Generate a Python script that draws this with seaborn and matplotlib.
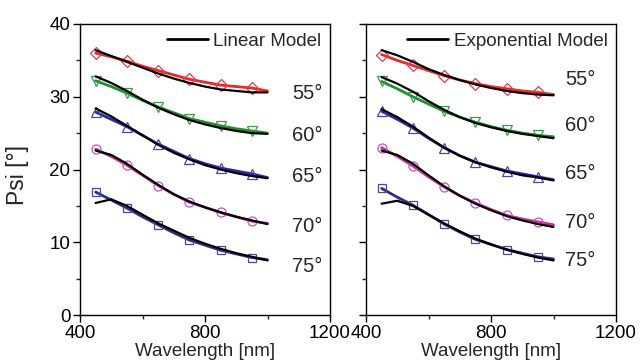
import numpy as np
import pandas as pd
import matplotlib
matplotlib.use("Agg")
import matplotlib.pyplot as plt
import seaborn as sns
from matplotlib.ticker import MultipleLocator
from matplotlib.lines import Line2D

sns.set_theme(style="ticks")
plt.rcParams['font.family'] = ['Liberation Sans', 'DejaVu Sans']

wavelength = [450, 500, 550, 600, 650, 700, 750, 800, 850, 900, 950, 1000]
angles = ["55°", "60°", "65°", "70°", "75°"]

# Left panel (Linear model)
lin_data = {
    "55°": [36.0, 35.5, 34.9, 34.2, 33.6, 33.0, 32.4, 32.0, 31.6, 31.4, 31.2, 30.8],
    "60°": [32.2, 31.4, 30.5, 29.5, 28.6, 27.8, 27.0, 26.5, 26.0, 25.6, 25.3, 25.0],
    "65°": [27.9, 26.9, 25.9, 24.7, 23.5, 22.5, 21.5, 20.8, 20.2, 19.8, 19.4, 18.9],
    "70°": [22.8, 21.8, 20.6, 19.2, 17.8, 16.6, 15.5, 14.8, 14.1, 13.5, 12.9, 12.6],
    "75°": [16.9, 15.8, 14.7, 13.5, 12.4, 11.3, 10.3, 9.6, 8.9, 8.4, 7.9, 7.6],
}
lin_fit = {
    "55°": [36.4, 35.6, 34.8, 34.0, 33.2, 32.5, 31.9, 31.4, 31.0, 30.8, 30.6, 30.6],
    "60°": [32.8, 31.9, 30.8, 29.6, 28.5, 27.6, 26.8, 26.2, 25.7, 25.3, 25.0, 24.9],
    "65°": [28.4, 27.3, 26.0, 24.7, 23.4, 22.3, 21.4, 20.6, 20.0, 19.5, 19.1, 18.8],
    "70°": [22.6, 22.0, 20.8, 19.3, 17.9, 16.6, 15.6, 14.8, 14.1, 13.5, 13.0, 12.5],
    "75°": [15.4, 15.9, 15.0, 13.8, 12.6, 11.6, 10.6, 9.8, 9.1, 8.5, 8.0, 7.5],
}
# Right panel (Exponential model)
exp_data = {
    "55°": [35.8, 35.0, 34.3, 33.6, 32.9, 32.3, 31.8, 31.4, 31.1, 30.8, 30.6, 30.3],
    "60°": [32.1, 31.1, 30.0, 29.0, 28.0, 27.2, 26.5, 25.9, 25.4, 25.0, 24.7, 24.5],
    "65°": [28.0, 26.9, 25.7, 24.3, 23.0, 21.9, 21.0, 20.4, 19.8, 19.4, 19.0, 18.6],
    "70°": [23.0, 21.8, 20.5, 19.0, 17.6, 16.4, 15.4, 14.5, 13.7, 13.2, 12.8, 12.4],
    "75°": [17.4, 16.2, 15.1, 13.8, 12.5, 11.4, 10.4, 9.7, 9.0, 8.5, 8.0, 7.7],
}
exp_fit = {
    "55°": [36.4, 35.7, 34.8, 33.8, 33.0, 32.3, 31.7, 31.2, 30.8, 30.5, 30.3, 30.2],
    "60°": [32.7, 31.8, 30.7, 29.4, 28.2, 27.2, 26.4, 25.8, 25.3, 24.9, 24.6, 24.3],
    "65°": [28.3, 27.2, 25.9, 24.4, 23.0, 21.9, 21.0, 20.3, 19.7, 19.2, 18.9, 18.5],
    "70°": [22.6, 22.0, 20.8, 19.2, 17.7, 16.4, 15.3, 14.4, 13.6, 13.0, 12.5, 12.1],
    "75°": [15.3, 15.7, 15.0, 13.8, 12.6, 11.5, 10.5, 9.7, 9.0, 8.4, 7.9, 7.5],
}

line_colors = {"55°": "#e8282a", "60°": "#1f8f2f", "65°": "#2a2aa8", "70°": "#c8309c", "75°": "#2e2e86"}
marker_colors = {"55°": "#d8404a", "60°": "#3c9a4a", "65°": "#4646b0", "70°": "#c055c0", "75°": "#4a4a98"}
markers = {"55°": "D", "60°": "v", "65°": "^", "70°": "o", "75°": "s"}
msizes = {"55°": 6, "60°": 7.5, "65°": 7.5, "70°": 6.5, "75°": 6}

left_label_y = [30.5, 24.7, 19.0, 12.1, 6.6]
right_label_y = [32.4, 26.1, 19.5, 12.7, 7.5]
left_label_x = 1078
right_label_x = 1037

fig = plt.figure(figsize=(6.44, 3.64), dpi=100)
axL = fig.add_axes([80/644, 49/364, 250/644, 291/364])
axR = fig.add_axes([366/644, 49/364, 250/644, 291/364])

def draw(ax, data, fit, legend_label, lab_x, lab_y):
    for a in angles:
        df = pd.DataFrame({"wl": wavelength, "psi": data[a]})
        sns.lineplot(data=df, x="wl", y="psi", ax=ax, color=line_colors[a], lw=2.0,
                     marker=markers[a], markevery=2, markersize=msizes[a],
                     markerfacecolor="none", markeredgecolor=marker_colors[a],
                     markeredgewidth=0.9, zorder=2)
        dff = pd.DataFrame({"wl": wavelength, "psi": fit[a]})
        sns.lineplot(data=dff, x="wl", y="psi", ax=ax, color="black", lw=1.6, zorder=3)
    for a, yy in zip(angles, lab_y):
        ax.text(lab_x, yy, a, fontsize=14.5, va="center", ha="left")
    ax.set_xlim(400, 1200)
    ax.set_ylim(0, 40)
    ax.xaxis.set_major_locator(MultipleLocator(400))
    ax.xaxis.set_minor_locator(MultipleLocator(200))
    ax.yaxis.set_major_locator(MultipleLocator(10))
    ax.yaxis.set_minor_locator(MultipleLocator(5))
    ax.tick_params(which="major", direction="out", length=5, width=1, labelsize=13.5, pad=2, colors="black")
    ax.tick_params(which="minor", direction="out", length=3, width=1)
    ax.tick_params(top=False, right=False, which="both")
    for s in ax.spines.values():
        s.set_visible(True)
        s.set_color("black")
        s.set_linewidth(1.0)
    ax.set_xlabel("Wavelength [nm]", fontsize=13.5, labelpad=1)
    h = [Line2D([], [], color="black", lw=2)]
    ax.legend(h, [legend_label], loc="upper right", frameon=False, fontsize=13.5,
              handlelength=2.2, handletextpad=0.3, borderpad=0.2, borderaxespad=0.25)

draw(axL, lin_data, lin_fit, "Linear Model", left_label_x, left_label_y)
draw(axR, exp_data, exp_fit, "Exponential Model", right_label_x, right_label_y)
axL.set_ylabel("Psi [°]", fontsize=16.5)
axL.yaxis.set_label_coords(-0.205, 0.48)
axR.set_ylabel("")
axR.set_yticklabels([])

fig.savefig("out.png", dpi=100)
